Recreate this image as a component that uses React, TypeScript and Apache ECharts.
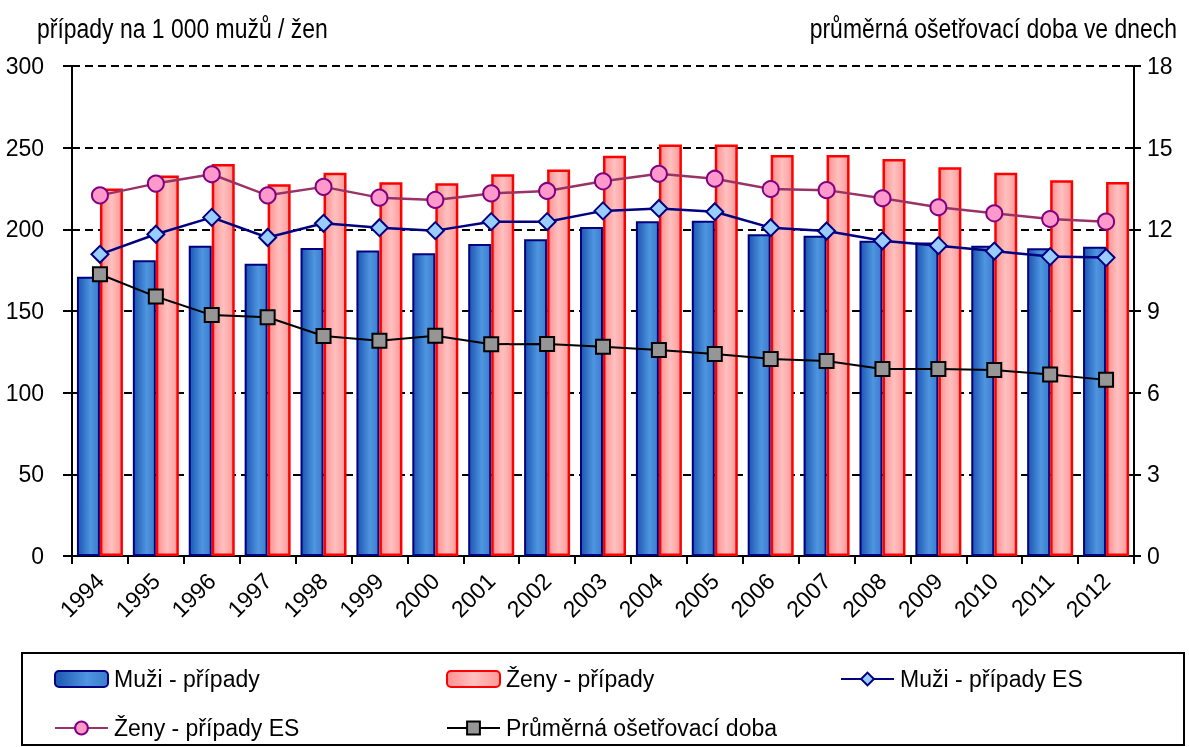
import React, { useEffect, useRef } from "react";
import * as echarts from "echarts";

const years = ["1994","1995","1996","1997","1998","1999","2000","2001","2002","2003","2004","2005","2006","2007","2008","2009","2010","2011","2012"];
const muziPripady = [171, 181, 190, 179, 188.6, 187, 185.3, 191, 194, 201.4, 205, 205.3, 197, 196, 193, 192, 190, 188.4, 189.4];
const zenyPripady = [225, 233, 240, 227.6, 234.7, 228.8, 228.2, 233.7, 236.7, 245, 252, 252, 245.5, 245.5, 243, 238, 234.7, 230, 229];
const muziES = [184.7, 197, 207.3, 195, 203.7, 201, 199.2, 204.7, 204.7, 211.3, 212.8, 210.8, 201, 199, 193, 190, 186.7, 183.3, 182.7];
const zenyES = [220.8, 228, 233.7, 220.8, 226, 219.4, 218, 222, 223.5, 229.4, 234, 231, 224.7, 224, 219, 213.5, 209.8, 206.3, 204.7];
const doba = [10.35, 9.53, 8.85, 8.77, 8.08, 7.91, 8.09, 7.78, 7.79, 7.69, 7.57, 7.42, 7.24, 7.16, 6.87, 6.87, 6.83, 6.67, 6.47];

const leftTitle = "případy na 1 000 mužů / žen";
const rightTitle = "průměrná ošetřovací doba ve dnech";
const names = ["Muži - případy", "Ženy - případy", "Muži - případy ES", "Ženy - případy ES", "Průměrná ošetřovací doba"];

const FONT = "'Liberation Sans', Arial, sans-serif";

export default function App() {
  const ref = useRef<HTMLDivElement>(null);
  useEffect(() => {
    if (!ref.current) return;
    const chart = echarts.init(ref.current, null, { renderer: "svg" });
    const blueGrad = new echarts.graphic.LinearGradient(0, 0, 1, 0, [
      { offset: 0, color: "#1c56b2" },
      { offset: 0.6, color: "#4f95df" },
      { offset: 1, color: "#3a7dcd" },
    ]);
    const redGrad = new echarts.graphic.LinearGradient(0, 0, 1, 0, [
      { offset: 0, color: "#ff9090" },
      { offset: 0.5, color: "#ffc0c0" },
      { offset: 1, color: "#ff9999" },
    ]);
    const legendBase = {
      orient: "horizontal",
      padding: 0,
      itemWidth: 53,
      itemHeight: 16,
      itemGap: 0,
      selectedMode: false,
      textStyle: { fontFamily: FONT, fontSize: 23, color: "#000", lineHeight: 28, padding: [0, 0, 0, 1] },
    };
    chart.setOption({
      animation: false,
      textStyle: { fontFamily: FONT },
      grid: { left: 72, right: 55, top: 66, bottom: 191, containLabel: false },
      legend: [
        { ...legendBase, data: [names[0]], left: 54, top: 665 },
        { ...legendBase, data: [names[1]], left: 446, top: 665 },
        { ...legendBase, data: [names[2]], left: 840, top: 665 },
        { ...legendBase, data: [names[3]], left: 54, top: 714 },
        { ...legendBase, data: [names[4]], left: 446, top: 714 },
      ],
      graphic: [
        {
          type: "rect",
          shape: { x: 22, y: 653, width: 1162, height: 92 },
          style: { fill: "none", stroke: "#000", lineWidth: 2 },
          silent: true,
        },
        {
          type: "text",
          x: 37,
          y: 28,
          scaleX: 0.85,
          style: { text: leftTitle, font: `27px ${FONT}`, fill: "#000", textVerticalAlign: "middle", textAlign: "left" },
        },
        {
          type: "text",
          x: 1177,
          y: 28,
          scaleX: 0.85,
          style: { text: rightTitle, font: `27px ${FONT}`, fill: "#000", textVerticalAlign: "middle", textAlign: "right" },
        },
      ],
      xAxis: {
        type: "category",
        data: years,
        boundaryGap: true,
        axisLine: { lineStyle: { color: "#000", width: 2 } },
        axisTick: { show: true, length: 8, lineStyle: { color: "#000", width: 2 } },
        axisLabel: { rotate: 45, fontSize: 23, color: "#000", margin: 21, fontFamily: FONT, interval: 0 },
      },
      yAxis: [
        {
          type: "value",
          min: 0,
          max: 300,
          interval: 50,
          axisLine: { show: true, lineStyle: { color: "#000", width: 2 } },
          axisTick: { show: true, length: 9, lineStyle: { color: "#000", width: 2 } },
          axisLabel: { fontSize: 23, color: "#000", margin: 28, fontFamily: FONT },
          splitLine: { show: true, lineStyle: { color: "#000", width: 2, type: [8, 5] } },
        },
        {
          type: "value",
          min: 0,
          max: 18,
          interval: 3,
          position: "right",
          axisLine: { show: true, lineStyle: { color: "#000", width: 2 } },
          axisTick: { show: true, length: 7, lineStyle: { color: "#000", width: 2 } },
          axisLabel: { fontSize: 23, color: "#000", margin: 13, fontFamily: FONT },
          splitLine: { show: false },
        },
      ],
      series: [
        {
          name: names[0],
          type: "bar",
          data: muziPripady,
          barWidth: 23,
          barGap: "0%",
          itemStyle: { color: blueGrad, borderColor: "#000080", borderWidth: 2 },
          z: 2,
        },
        {
          name: names[1],
          type: "bar",
          data: zenyPripady,
          barWidth: 23,
          barGap: "0%",
          itemStyle: { color: redGrad, borderColor: "#ff0000", borderWidth: 2.5 },
          z: 2,
        },
        {
          name: names[2],
          type: "line",
          data: muziES,
          symbol: "diamond",
          symbolSize: 17,
          lineStyle: { color: "#000080", width: 2.5 },
          itemStyle: { color: "#99ccff", borderColor: "#000080", borderWidth: 2 },
          z: 4,
        },
        {
          name: names[3],
          type: "line",
          data: zenyES,
          symbol: "circle",
          symbolSize: 16,
          lineStyle: { color: "#993366", width: 2.5 },
          itemStyle: { color: "#ff99cc", borderColor: "#800080", borderWidth: 2 },
          z: 4,
        },
        {
          name: names[4],
          type: "line",
          yAxisIndex: 1,
          data: doba,
          symbol: "rect",
          symbolSize: 14,
          lineStyle: { color: "#000", width: 2 },
          itemStyle: { color: "#969696", borderColor: "#000", borderWidth: 2 },
          z: 4,
        },
      ],
    });
    return () => chart.dispose();
  }, []);
  return <div ref={ref} style={{ position: "fixed", left: 0, top: 0, width: 1189, height: 747 }} />;
}
